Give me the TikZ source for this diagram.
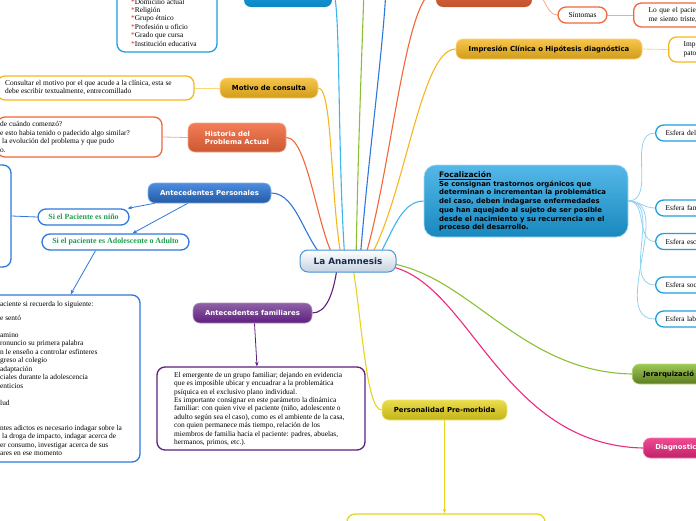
\documentclass[tikz,border=0pt]{standalone}
\usepackage{fontspec}
\setmainfont{Liberation Serif}
\newfontfamily\tfont{DejaVu Sans}
\usetikzlibrary{arrows.meta}
\pgfdeclarelayer{bg}
\pgfsetlayers{bg,main}
\definecolor{lb}{HTML}{3DB4EC}
\definecolor{lbl}{HTML}{8FD3F2}
\definecolor{esf}{HTML}{1CA0E0}
\definecolor{gold}{HTML}{F5B71E}
\definecolor{goldl}{HTML}{F9D77A}
\definecolor{orng}{HTML}{F0673A}
\definecolor{orngl}{HTML}{F6A88A}
\definecolor{blu}{HTML}{2E78DA}
\definecolor{purp}{HTML}{5E1E7E}
\definecolor{yel}{HTML}{E6D41E}
\definecolor{yell}{HTML}{EDE27A}
\definecolor{grn}{HTML}{8CC034}
\definecolor{pnk}{HTML}{EE2A80}
\definecolor{txgreen}{HTML}{1E9E4E}
\definecolor{astred}{HTML}{E03030}
\definecolor{navy}{HTML}{1A2A50}
\definecolor{tbone}{HTML}{2DAAE6}
\definecolor{tbtwo}{HTML}{0B86C6}
\definecolor{cbot}{HTML}{C4D2E0}
\definecolor{cbord}{HTML}{4A94D4}
\tikzset{
 ttl/.style={rounded corners=7pt, inner sep=0pt, align=center, font=\tfont\bfseries\fontsize{6.9}{8}\selectfont, line width=0.6pt},
 tbox/.style={rounded corners=8pt, fill=white, line width=1.3pt, inner sep=0pt},
 body/.style={inner sep=0pt, align=left, font=\fontsize{7.4}{8.5}\selectfont, anchor=north west},
 br/.style={line width=1.1pt},
 thn/.style={line width=0.8pt},
 arr/.style={-{Stealth[length=4.5pt,width=3.5pt]}},
 esfera/.style={tbox, draw=esf, anchor=west, minimum height=16, inner xsep=10pt, text width=70pt, align=left, font=\fontsize{7.4}{8.5}\selectfont},
}
\begin{document}
\begin{tikzpicture}[x=1pt,y=-1pt]
\useasboundingbox (0,0) rectangle (696,520);
\clip (0,0) rectangle (696,520);

% central node
\node[ttl, font=\tfont\bfseries\fontsize{8.8}{10}\selectfont, text=navy, top color=white, bottom color=cbot, draw=cbord, line width=1pt, minimum width=96, minimum height=22, rounded corners=8pt] (c) at (348,261) {La Anamnesis};

% top blue node and list box
\node[ttl, top color=tbone, bottom color=tbtwo, minimum width=88, minimum height=32] (tb) at (288,-9) {};
\node[tbox, draw=esf, minimum width=100, minimum height=82] (lst) at (167,11) {};
\node[body, font=\fontsize{7.4}{8.4}\selectfont] (lstt) at (131,-1.3) {\textcolor{astred}{*}Domicilio actual\\\textcolor{astred}{*}Religión\\\textcolor{astred}{*}Grupo étnico\\\textcolor{astred}{*}Profesión u oficio\\\textcolor{astred}{*}Grado que cursa\\\textcolor{astred}{*}Institución educativa};

% motivo
\node[ttl, top color=gold!80!white, bottom color=gold!85!black, draw=gold!60!white, minimum width=98, minimum height=20] (mot) at (269,88) {Motivo de consulta};
\node[tbox, draw=gold, minimum width=197, minimum height=24] (motb) at (95.5,88) {};
\node[body] (mott) at (5,80) {Consultar el motivo por el que acude a la clínica, esta se\\debe escribir textualmente, entrecomillado};

% historia
\node[ttl, text=white, align=left, top color=orng!85!white, bottom color=orng!85!black, draw=orng!60!white, minimum width=98, minimum height=29] (hist) at (237,137.5) {Historia del\\Problema Actual};
\node[tbox, draw=orng, minimum width=165, minimum height=40] (histb) at (79.5,137) {};
\node[body] (histt) at (0,121.3) {de cuándo comenzó?\\e esto habia tenido o padecido algo similar?\\\hspace*{2pt}la evolución del problema y que pudo\\o.};

% antecedentes personales
\node[ttl, text=white, top color=blu!85!white, bottom color=blu!75!black, draw=blu!60!white, minimum width=123, minimum height=20] (ap) at (209.5,193) {Antecedentes Personales};
\node[tbox, draw=blu, minimum width=211, minimum height=102] (bb1) at (-94.5,216) {};
\node[tbox, draw=blu, minimum width=91, minimum height=16, text=txgreen, font=\bfseries\fontsize{7.9}{9}\selectfont] (nino) at (83.5,217) {Si el Paciente es niño};
\node[tbox, draw=blu, minimum width=147, minimum height=16, text=txgreen, font=\bfseries\fontsize{7.9}{9}\selectfont] (adol) at (115.5,242) {Si el paciente es Adolescente o Adulto};
\node[tbox, draw=blu, minimum width=340, minimum height=167] (bb2) at (-30,378.5) {};
\node[body] (bb2t) at (0,300.8) {aciente si recuerda lo siguiente:\\[5.5pt]e sentó\\[8.5pt]amino\\ronuncio su primera palabra\\n le enseño a controlar esfinteres\\greso al colegio\\adaptación\\ciales durante la adolescencia\\enticios\\[8.5pt]lud\\[16.5pt]ntes adictos es necesario indagar sobre la\\\hspace*{2pt}la droga de impacto, indagar acerca de\\er consumo, investigar acerca de sus\\ares en ese momento};

% antecedentes familiares
\node[ttl, text=white, top color=purp!70!white, bottom color=purp, draw=purp!50!white, minimum width=119, minimum height=20] (af) at (252.5,313) {Antecedentes familiares};
\node[tbox, draw=purp, minimum width=208, minimum height=83] (pb) at (261,408.5) {};
\node[body, font=\fontsize{7.4}{8.4}\selectfont] (pbt) at (174,371.8) {El emergente de un grupo familiar; dejando en evidencia\\que es imposible ubicar y encuadrar a la problemática\\psíquica en el exclusivo plano individual.\\Es importante consignar en este parámetro la dinámica\\familiar: con quien vive el paciente (niño, adolescente o\\adulto según sea el caso), como es el ambiente de la casa,\\con quien permanece más tiempo, relación de los\\miembros de familia hacia el paciente: padres, abuelas,\\hermanos, primos, etc.).};

% personalidad
\node[ttl, top color=yel!80!white, bottom color=yel!85!black, draw=yel!60!white, minimum width=125, minimum height=20] (pp) at (444.5,410) {Personalidad Pre-morbida};
\node[tbox, draw=yel, minimum width=198, minimum height=46] (ppb) at (446,537) {};

% impresion
\node[ttl, top color=gold!80!white, bottom color=gold!85!black, draw=gold!60!white, minimum width=186, minimum height=20] (imp) at (549,49) {Impresión Clínica o Hipótesis diagnóstica};
\node[tbox, draw=gold, anchor=west, minimum height=25, inner xsep=15pt, text width=60pt, align=left, font=\fontsize{7.4}{8.5}\selectfont] (impb) at (668,49.5) {Imp\\pato};

% orange top node, sintomas
\node[ttl, top color=orng!90!white, bottom color=orng!80!black, minimum width=96, minimum height=32] (on) at (484,-9) {};
\node[tbox, draw=orng, minimum width=49, minimum height=16, font=\fontsize{7.5}{8}\selectfont] (sint) at (582.5,15) {Síntomas};
\node[tbox, draw=orng, anchor=west, minimum height=24, inner xsep=15pt, text width=90pt, align=left, font=\fontsize{7.4}{8.5}\selectfont] (loq) at (633,15) {Lo que el pacien\\me siento triste,};

% focalizacion
\node[ttl, top color=esf!75!white, bottom color=esf!85!black, draw=esf!40!white, minimum width=204, minimum height=72, rounded corners=12pt] (foc) at (526,201) {};
\node[inner sep=0pt, anchor=base west, font=\tfont\bfseries\fontsize{7.6}{9}\selectfont] (foct1) at (439,177.3) {\underline{Focalización}};
\node[body, font=\tfont\bfseries\fontsize{6.9}{8.7}\selectfont] (foct2) at (439,180.5) {Se consignan trastornos orgánicos que\\determinan o incrementan la problemática\\del caso, deben indagarse enfermedades\\que han aquejado al sujeto de ser posible\\desde el nacimiento y su recurrencia en el\\proceso del desarrollo.};
\node[esfera] (e1) at (655,133) {Esfera del};
\node[esfera] (e2) at (655,208) {Esfera fam};
\node[esfera] (e3) at (655,241.5) {Esfera esc};
\node[esfera] (e4) at (655,285) {Esfera soc};
\node[esfera] (e5) at (655,319) {Esfera labo};

% jerarquizacion, diagnostico
\node[ttl, anchor=west, align=left, top color=grn!85!white, bottom color=grn!65!black, draw=grn!60!white, minimum height=20, text width=80pt, inner xsep=11pt] (jer) at (632,374) {Jerarquizació};
\node[ttl, anchor=west, align=left, text=white, top color=pnk!85!white, bottom color=pnk!80!black, draw=pnk!60!white, minimum height=20, text width=80pt, inner xsep=12pt] (diag) at (643,448) {Diagnostic};

\coordinate (gtop) at (364,-10);
\coordinate (btop) at (386,-10);

\begin{pgfonlayer}{bg}
\draw[br, lb] (tb.east) .. controls (341,-9) and (337,150) .. ([xshift=-3pt]c.center);
\draw[br, gold] (mot.east) .. controls (333,88) and (330,200) .. ([xshift=-6pt]c.center);
\draw[br, orng] (hist.east) .. controls (308,137) and (318,235) .. ([xshift=-12pt]c.center);
\draw[br, blu] (ap.east) .. controls (298,193) and (305,245) .. ([xshift=-20pt]c.center);
\draw[br, grn] ([xshift=8pt]c.center) .. controls (358,150) and (362,50) .. (gtop);
\draw[br, blu] ([xshift=12pt]c.center) .. controls (368,160) and (382,60) .. (btop);
\draw[br, orng] (on.west) .. controls (405,-9) and (392,170) .. ([xshift=16pt]c.center);
\draw[br, gold] (imp.west) .. controls (420,49) and (405,200) .. ([xshift=20pt]c.center);
\draw[br, lb] ([xshift=28pt]c.center) .. controls (392,235) and (400,201) .. (foc.west);
\draw[br, grn] ([xshift=40pt,yshift=-2pt]c.center) .. controls (470,275) and (520,372) .. (jer.west);
\draw[br, pnk] ([xshift=40pt,yshift=-5pt]c.center) .. controls (470,280) and (500,445) .. (diag.west);
\draw[br, purp] ([xshift=-10pt]c.center) .. controls (334,295) and (326,313) .. (af.east);
\draw[br, yel] ([xshift=4pt]c.center) .. controls (362,320) and (366,410) .. (pp.west);

\draw[thn, goldl] (mot.west) -- (motb.east);
\draw[thn, orngl] (hist.west) -- (histb.east);
\draw[thn, goldl] (imp.east) -- (impb.west);
\draw[thn, orngl] (on.east) .. controls (545,-9) and (545,15) .. (sint.west);
\draw[thn, orngl] (sint.east) -- (loq.west);
\draw[thn, blu] (nino.west) -- (bb1.east);
\foreach \e in {e1,e2,e3,e4,e5} \draw[thn, lbl] (foc.east) to[out=0,in=180] (\e.west);

\draw[thn, blu, arr] ([xshift=7pt]ap.south west) -- ([xshift=-2pt]nino.north east);
\draw[thn, blu, arr] ([xshift=40pt]ap.south west) -- ([xshift=17pt]adol.north);
\draw[thn, blu, arr] ([xshift=-20pt]adol.south) -- ([xshift=-70pt]bb2.north east);
\draw[thn, purp, arr] ([xshift=2pt]af.south) -- ([xshift=-4pt]pb.north);
\draw[thn, yel, arr] (pp.south) -- ([xshift=-1.5pt]ppb.north);
\end{pgfonlayer}
\end{tikzpicture}
\end{document}
